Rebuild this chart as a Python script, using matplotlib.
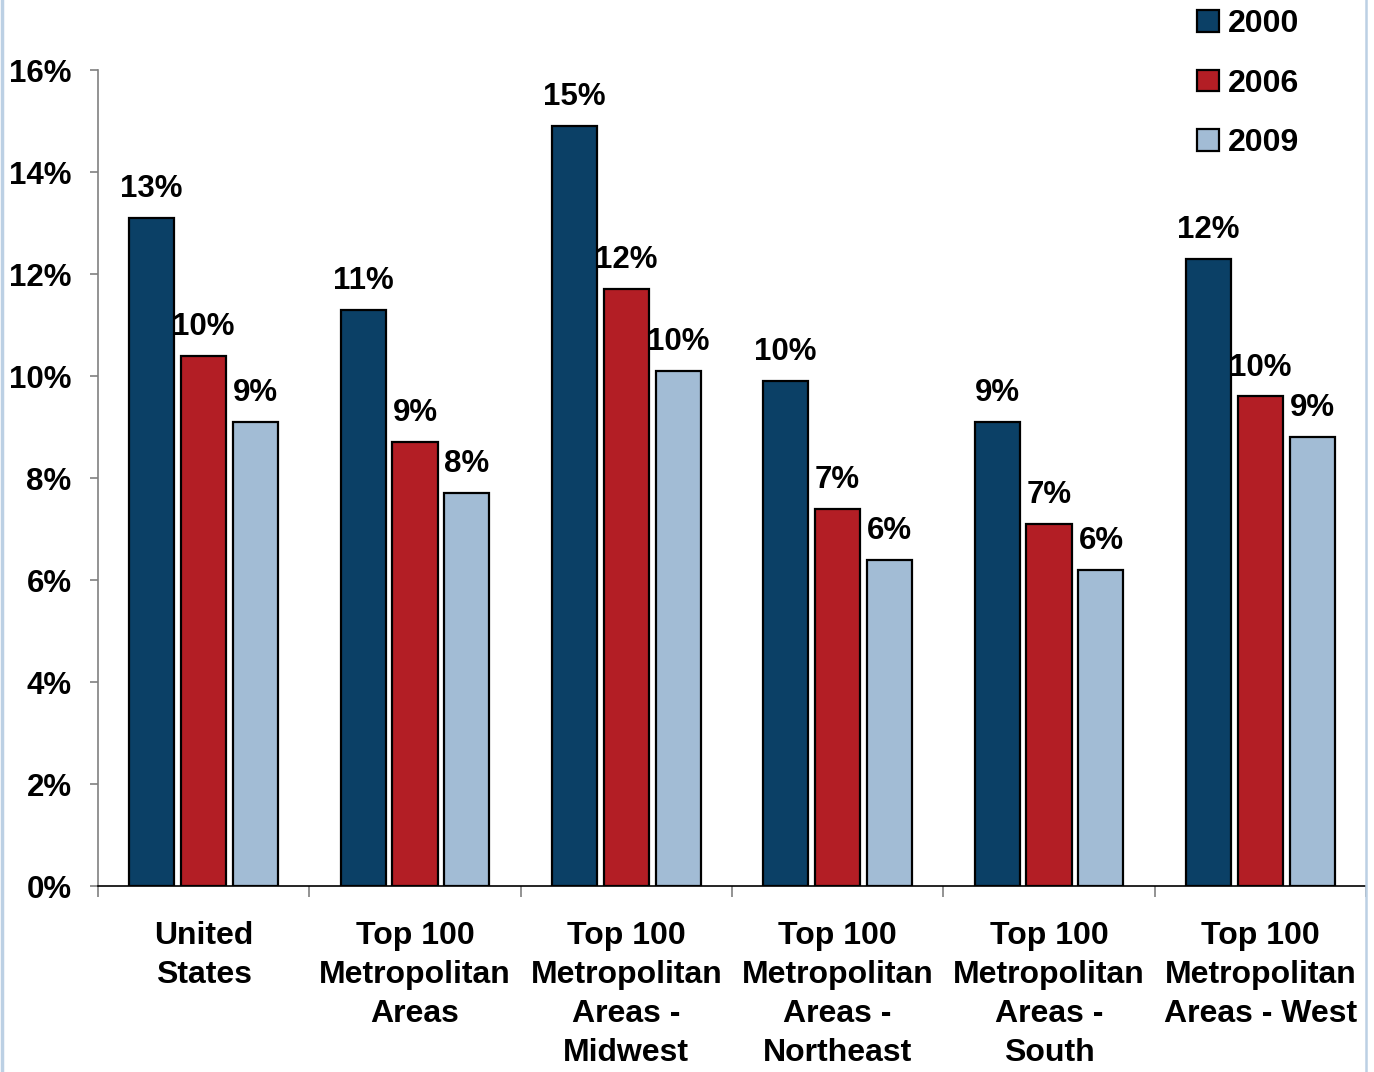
import matplotlib
matplotlib.use("Agg")
import matplotlib.pyplot as plt
from matplotlib.lines import Line2D
import numpy as np

plt.rcParams['font.family'] = ['Liberation Sans', 'DejaVu Sans']
plt.rcParams['font.weight'] = 'bold'

categories = ["United\nStates", "Top 100\nMetropolitan\nAreas",
              "Top 100\nMetropolitan\nAreas -\nMidwest",
              "Top 100\nMetropolitan\nAreas -\nNortheast",
              "Top 100\nMetropolitan\nAreas -\nSouth",
              "Top 100\nMetropolitan\nAreas - West"]
series_names = ["2000", "2006", "2009"]
values_2000 = [13.1, 11.3, 14.9, 9.9, 9.1, 12.3]
values_2006 = [10.4, 8.7, 11.7, 7.4, 7.1, 9.6]
values_2009 = [9.1, 7.7, 10.1, 6.4, 6.2, 8.8]
colors = ["#0B4066", "#B31E25", "#A2BCD5"]
yticks = [0, 2, 4, 6, 8, 10, 12, 14, 16]
ytick_labels = ["0%", "2%", "4%", "6%", "8%", "10%", "12%", "14%", "16%"]

W, H = 1374, 1072
fig = plt.figure(figsize=(W / 100, H / 100), dpi=100)
ax = fig.add_axes([98 / W, 1 - 886 / H, (1366 - 98) / W, (886 - 70) / H])

x = np.arange(len(categories)) + 0.5
step = 0.246
width = 0.213
series = [values_2000, values_2006, values_2009]
for k, (vals, name, col) in enumerate(zip(series, series_names, colors)):
    pos = x + (k - 1) * step
    bars = ax.bar(pos, vals, width, color=col, edgecolor="black", linewidth=1.6,
                  label=name, zorder=3)
    for xi, v in zip(pos, vals):
        ax.annotate(f"{round(v):.0f}%", (xi, v), xytext=(0, 10), textcoords="offset points",
                    ha="center", va="bottom", fontsize=22.5, fontweight="bold")

ax.set_xlim(0, len(categories))
ax.set_ylim(0, 16)
ax.set_yticks(yticks)
ax.set_yticklabels(ytick_labels, fontsize=22.5, fontweight="bold")
ax.tick_params(axis="y", length=6, width=1.2, color="#808080", pad=13, direction="out")

ax.set_xticks(np.arange(len(categories) + 1))
ax.set_xticklabels([])
ax.set_xticks(x, minor=True)
ax.set_xticklabels(categories, minor=True, fontsize=23, fontweight="bold",
                   linespacing=1.4, va="top")
ax.tick_params(axis="x", which="major", length=8, width=1.2, color="#808080", direction="out")
ax.tick_params(axis="x", which="minor", length=0, pad=25)

for s in ["top", "right"]:
    ax.spines[s].set_visible(False)
ax.spines["left"].set_color("#808080")
ax.spines["left"].set_linewidth(1.2)
ax.spines["bottom"].set_color("black")
ax.spines["bottom"].set_linewidth(1.2)

fig.legend(loc="upper left", bbox_to_anchor=(1197 / W, 1 - 9 / H), frameon=False,
           handlelength=0.68, handleheight=0.68, handletextpad=0.3,
           labelspacing=0.93, borderpad=0, borderaxespad=0,
           prop={"weight": "bold", "size": 23})

fig.add_artist(Line2D([1.5 / W, 1.5 / W], [0, 1], color="#BCD0E4", linewidth=2.5,
                      transform=fig.transFigure))
fig.add_artist(Line2D([1365.5 / W, 1365.5 / W], [0, 1], color="#BCD0E4", linewidth=1.8,
                      transform=fig.transFigure))

fig.savefig("out.png", dpi=100)
